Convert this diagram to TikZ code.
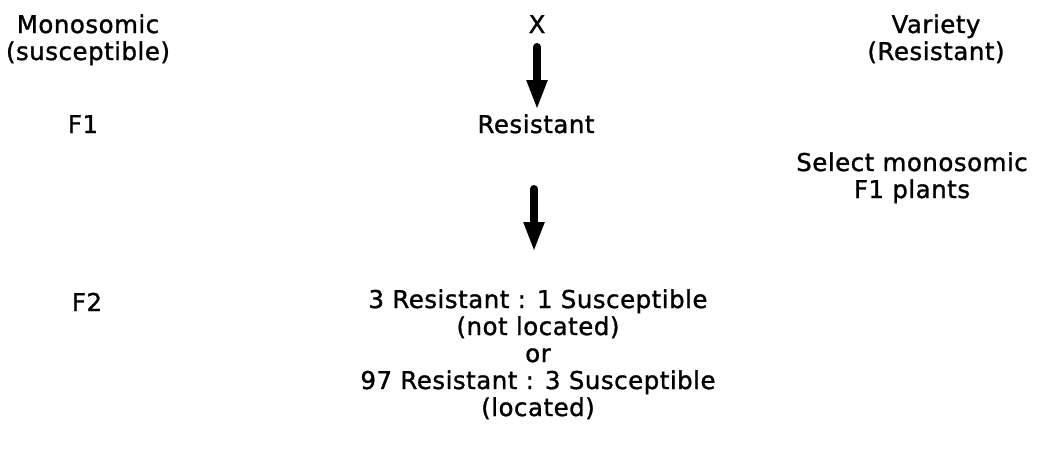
\documentclass[tikz,border=0pt]{standalone}
\usepackage{fontspec}
\setmainfont{DejaVu Sans}[LetterSpace=2,FakeBold=1.2]
\usetikzlibrary{arrows.meta}
\begin{document}
\begin{tikzpicture}[x=1pt,y=-1pt,
  lbl/.style={font=\fontsize{24.5}{27}\selectfont, inner sep=0pt, anchor=base},
  bigarrow/.style={line width=8pt, line cap=round, -{Triangle[length=30pt,width=19pt]}}]
\useasboundingbox (0,0) rectangle (1040,451);
\node[lbl] (mono1) at (88,33) {Monosomic};
\node[lbl] (mono2) at (88,60) {(susceptible)};
\node[lbl] (x) at (537,33) {X};
\node[lbl] (var1) at (936,33) {Variety};
\node[lbl] (var2) at (936,60) {(Resistant)};
\node[lbl] (f1) at (83,133) {F1};
\node[lbl] (res) at (536,133) {Resistant};
\node[lbl] (sel1) at (912,171) {Select monosomic};
\node[lbl] (sel2) at (912,198) {F1 plants};
\node[lbl] (f2) at (87,311) {F2};
\node[lbl] (r1) at (538,308) {3 Resistant : 1 Susceptible};
\node[lbl] (r2) at (538,335) {(not located)};
\node[lbl] (r3) at (538,362) {or};
\node[lbl] (r4) at (538,389) {97 Resistant : 3 Susceptible};
\node[lbl] (r5) at (538,416) {(located)};
\coordinate (a1s) at (537,47);
\coordinate (a1e) at (537,110);
\coordinate (a2s) at (534,189);
\coordinate (a2e) at (534,252);
\draw[bigarrow] (a1s) -- (a1e);
\draw[bigarrow] (a2s) -- (a2e);
\end{tikzpicture}
\end{document}
